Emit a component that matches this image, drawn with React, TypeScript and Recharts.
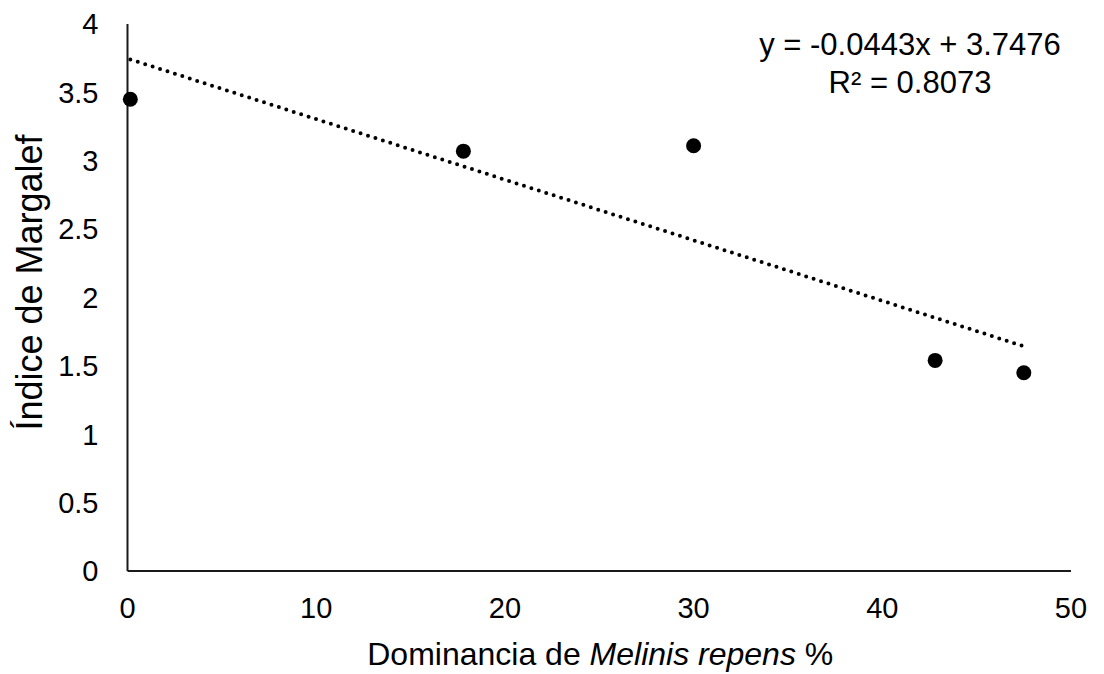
import React from 'react';
import { ComposedChart, Scatter, XAxis, YAxis, ReferenceLine, Label } from 'recharts';

const dominance = [0.15, 17.8, 30.0, 42.8, 47.5];
const margalef = [3.45, 3.07, 3.11, 1.54, 1.45];
const xTicks = [0, 10, 20, 30, 40, 50];
const yTicks = [0, 0.5, 1, 1.5, 2, 2.5, 3, 3.5, 4];
const slope = -0.0443;
const intercept = 3.7476;
const equationText = 'y = -0.0443x + 3.7476';
const r2Text = 'R² = 0.8073';
const xTitleStart = 'Dominancia de ';
const xTitleItalic = 'Melinis repens';
const xTitleEnd = ' %';
const yTitle = 'Índice de Margalef';

const FONT = '"Liberation Sans", Arial, sans-serif';
const W = 1088;
const H = 666;

const points = dominance.map((x, i) => ({ x, y: margalef[i] }));
const xMin = Math.min(...dominance);
const xMax = Math.max(...dominance);
const trend = [
  { x: xMin, y: intercept + slope * xMin },
  { x: xMax, y: intercept + slope * xMax },
];

const Dot = (props: any) => <circle cx={props.cx} cy={props.cy} r={7.5} fill="#000" />;

const XTitle = (props: any) => {
  const vb = props.viewBox || {};
  const cx = vb.x + vb.width / 2 + 1;
  return (
    <text x={cx} y={vb.y + 94} textAnchor="middle" fontFamily={FONT} fontSize={32} fill="#000">
      <tspan>{xTitleStart}</tspan>
      <tspan fontStyle="italic">{xTitleItalic}</tspan>
      <tspan>{xTitleEnd}</tspan>
    </text>
  );
};

const YTitle = (props: any) => {
  const vb = props.viewBox || {};
  const cy = vb.y + vb.height / 2 - 15;
  const x = 34;
  return (
    <text x={x} y={cy} textAnchor="middle" fontFamily={FONT} fontSize={36} fill="#000" transform={`rotate(-90, ${x}, ${cy})`}>
      {yTitle}
    </text>
  );
};

export default function App() {
  return (
    <div style={{ width: W, height: H, background: '#fff' }}>
      <ComposedChart width={W} height={H} data={points} margin={{ top: 16, right: 25, left: 0, bottom: 0 }}>
        <XAxis
          type="number"
          dataKey="x"
          domain={[0, 50]}
          ticks={xTicks}
          height={103}
          tickLine={false}
          tickSize={0}
          tickMargin={26}
          axisLine={{ stroke: '#1a1a1a', strokeWidth: 2 }}
          tick={{ fill: '#000', fontSize: 29, fontFamily: FONT }}
          interval={0}
        >
          <Label content={<XTitle />} />
        </XAxis>
        <YAxis
          type="number"
          dataKey="y"
          domain={[0, 4]}
          ticks={yTicks}
          width={119.5}
          tickLine={false}
          tickSize={0}
          tickMargin={29}
          axisLine={{ stroke: '#1a1a1a', strokeWidth: 2 }}
          tick={{ fill: '#000', fontSize: 29, fontFamily: FONT }}
          interval={0}
        >
          <Label content={<YTitle />} />
        </YAxis>
        <ReferenceLine
          segment={trend}
          stroke="#000"
          strokeWidth={4}
          strokeDasharray="0 7.8"
          strokeLinecap="round"
          ifOverflow="visible"
        />
        <Scatter data={points} dataKey="y" shape={<Dot />} isAnimationActive={false} />
        <g>
          <text x={902} y={47} textAnchor="middle" fontFamily={FONT} fontSize={31} fill="#000">{equationText}</text>
          <text x={902} y={85} textAnchor="middle" fontFamily={FONT} fontSize={31} fill="#000">{r2Text}</text>
        </g>
      </ComposedChart>
    </div>
  );
}
